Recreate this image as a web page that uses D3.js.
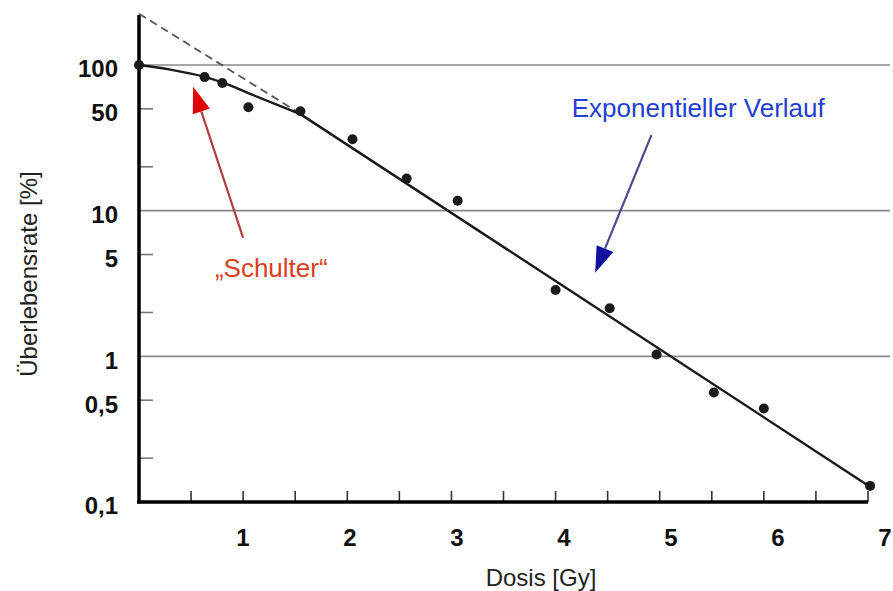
<!DOCTYPE html>
<html>
<head>
<meta charset="utf-8">
<script src="https://cdn.jsdelivr.net/npm/d3@7"></script>
<style>
  body { margin: 0; background: #fff; }
  svg { display: block; }
  text { font-family: "Liberation Sans", Arial, sans-serif; }
</style>
</head>
<body>
<svg id="chart" width="893" height="591"></svg>
<script>
// Measured survival (%) after irradiation with dose (Gy)
const measuredDose = [0, 0.63, 0.80, 1.05, 1.55, 2.05, 2.57, 3.06, 4.00, 4.52, 4.97, 5.52, 6.00, 7.02];
const measuredRate = [100, 82.6, 75.2, 51.3, 48.2, 30.9, 16.6, 11.7, 2.85, 2.14, 1.03, 0.565, 0.438, 0.129];

// Fitted survival curve: rounded shoulder ...
const shoulderDose = [0, 0.3, 0.63, 0.8, 1.1, 1.55];
const shoulderRate = [100, 93, 83, 76, 62, 46];
// ... followed by a straight exponential decline
const expDose = [1.55, 7];
const expRate = [46, 0.13];

// Back-extrapolation of the exponential part (dashed)
const extrapDose = [0, 1.6];
const extrapRate = [225, 44];

// Axis ticks and labels
const doseTickValues = [0.5, 1, 1.5, 2, 2.5, 3, 3.5, 4, 4.5, 5, 5.5, 6, 6.5, 7];
const doseLabelValues = [1, 2, 3, 4, 5, 6, 7];
const rateGrid = [100, 10, 1];
const rateMinor = [50, 20, 5, 2, 0.5, 0.2];
const rateLabelValues = [100, 50, 10, 5, 1, 0.5, 0.1];
const rateLabels = ["100", "50", "10", "5", "1", "0,5", "0,1"];

const svg = d3.select("#chart");

const x = d3.scaleLinear().domain([0, 7]).range([139, 868]);
const xLabel = d3.scaleLinear().domain([0, 7]).range([136, 885]);
const y = d3.scaleLog().domain([0.1, 100]).range([502, 65]);
const yTop = 220;

// Horizontal grid lines at the decades
svg.append("g").selectAll("line").data(rateGrid).join("line")
  .attr("x1", x(0)).attr("x2", 890)
  .attr("y1", d => y(d)).attr("y2", d => y(d))
  .attr("stroke", "#8a8a8a").attr("stroke-width", 1.6);

// Minor ticks on the rate axis
svg.append("g").selectAll("line").data(rateMinor).join("line")
  .attr("x1", x(0)).attr("x2", x(0) + 14)
  .attr("y1", d => y(d)).attr("y2", d => y(d))
  .attr("stroke", "#777").attr("stroke-width", 1.6);

// Dose ticks (every half Gy)
svg.append("g").selectAll("line").data(doseTickValues).join("line")
  .attr("x1", d => x(d)).attr("x2", d => x(d))
  .attr("y1", y(0.1)).attr("y2", y(0.1) - 11)
  .attr("stroke", "#333").attr("stroke-width", 1.6);

// Axes
svg.append("line")
  .attr("x1", x(0)).attr("x2", x(0))
  .attr("y1", y(yTop)).attr("y2", y(0.1) + 1.5)
  .attr("stroke", "#000").attr("stroke-width", 3.5);
svg.append("line")
  .attr("x1", x(0) - 2).attr("x2", x(7))
  .attr("y1", y(0.1)).attr("y2", y(0.1))
  .attr("stroke", "#000").attr("stroke-width", 3.5);

// Tick labels
svg.append("g").selectAll("text").data(rateLabelValues).join("text")
  .attr("x", 118).attr("y", d => y(d) + 4)
  .attr("dy", "0.35em")
  .attr("text-anchor", "end")
  .attr("font-size", 24).attr("font-weight", "bold").attr("fill", "#111")
  .text((d, i) => rateLabels[i]);

svg.append("g").selectAll("text").data(doseLabelValues).join("text")
  .attr("x", d => xLabel(d)).attr("y", 546)
  .attr("text-anchor", "middle")
  .attr("font-size", 24).attr("font-weight", "bold").attr("fill", "#111")
  .text(d => d);

// Axis titles
svg.append("text")
  .attr("x", 541).attr("y", 586)
  .attr("text-anchor", "middle")
  .attr("font-size", 24).attr("fill", "#222")
  .text("Dosis [Gy]");
svg.append("text")
  .attr("transform", "translate(37,274) rotate(-90)")
  .attr("text-anchor", "middle")
  .attr("font-size", 24).attr("fill", "#222")
  .text("Überlebensrate [%]");

// Dashed back-extrapolation
svg.append("path")
  .datum(extrapDose.map((d, i) => [d, extrapRate[i]]))
  .attr("d", d3.line().x(d => x(d[0])).y(d => y(d[1])))
  .attr("fill", "none").attr("stroke", "#555")
  .attr("stroke-width", 1.8).attr("stroke-dasharray", "8,5");

// Fitted curve: shoulder (smoothed) and exponential tail (straight on log scale)
svg.append("path")
  .datum(shoulderDose.map((d, i) => [d, shoulderRate[i]]))
  .attr("d", d3.line().x(d => x(d[0])).y(d => y(d[1])).curve(d3.curveMonotoneX))
  .attr("fill", "none").attr("stroke", "#1a1a1a").attr("stroke-width", 2.4)
  .attr("stroke-linecap", "round");
svg.append("path")
  .datum(expDose.map((d, i) => [d, expRate[i]]))
  .attr("d", d3.line().x(d => x(d[0])).y(d => y(d[1])))
  .attr("fill", "none").attr("stroke", "#1a1a1a").attr("stroke-width", 2.4)
  .attr("stroke-linecap", "round");

// Measured points
svg.append("g").selectAll("circle").data(measuredDose).join("circle")
  .attr("cx", d => x(d)).attr("cy", (d, i) => y(measuredRate[i]))
  .attr("r", 5).attr("fill", "#1a1a1a");

// Annotation arrows
function arrow(from, to, shaftColor, headColor) {
  const x0 = x(from[0]), y0 = y(from[1]);
  const x1 = x(to[0]), y1 = y(to[1]);
  const ang = Math.atan2(y1 - y0, x1 - x0);
  const len = 26, half = 9;
  const bx = x1 - len * Math.cos(ang), by = y1 - len * Math.sin(ang);
  svg.append("line")
    .attr("x1", x0).attr("y1", y0).attr("x2", bx).attr("y2", by)
    .attr("stroke", shaftColor).attr("stroke-width", 2.2);
  const px = -Math.sin(ang) * half, py = Math.cos(ang) * half;
  svg.append("path")
    .attr("d", `M${x1},${y1}L${bx + px},${by + py}L${bx - px},${by - py}Z`)
    .attr("fill", headColor);
}

arrow([1.0, 6.5], [0.52, 71], "#b24040", "#e00000");
arrow([4.92, 33], [4.38, 3.75], "#4a4a8c", "#14109e");

// Annotation labels
svg.append("text")
  .attr("x", x(5.37)).attr("y", y(44))
  .attr("text-anchor", "middle")
  .attr("font-size", 26).attr("fill", "#1f3fd0")
  .text("Exponentieller Verlauf");
svg.append("text")
  .attr("x", x(1.27)).attr("y", y(3.5))
  .attr("text-anchor", "middle")
  .attr("font-size", 26).attr("fill", "#d8401e")
  .text("„Schulter“");
</script>
</body>
</html>
